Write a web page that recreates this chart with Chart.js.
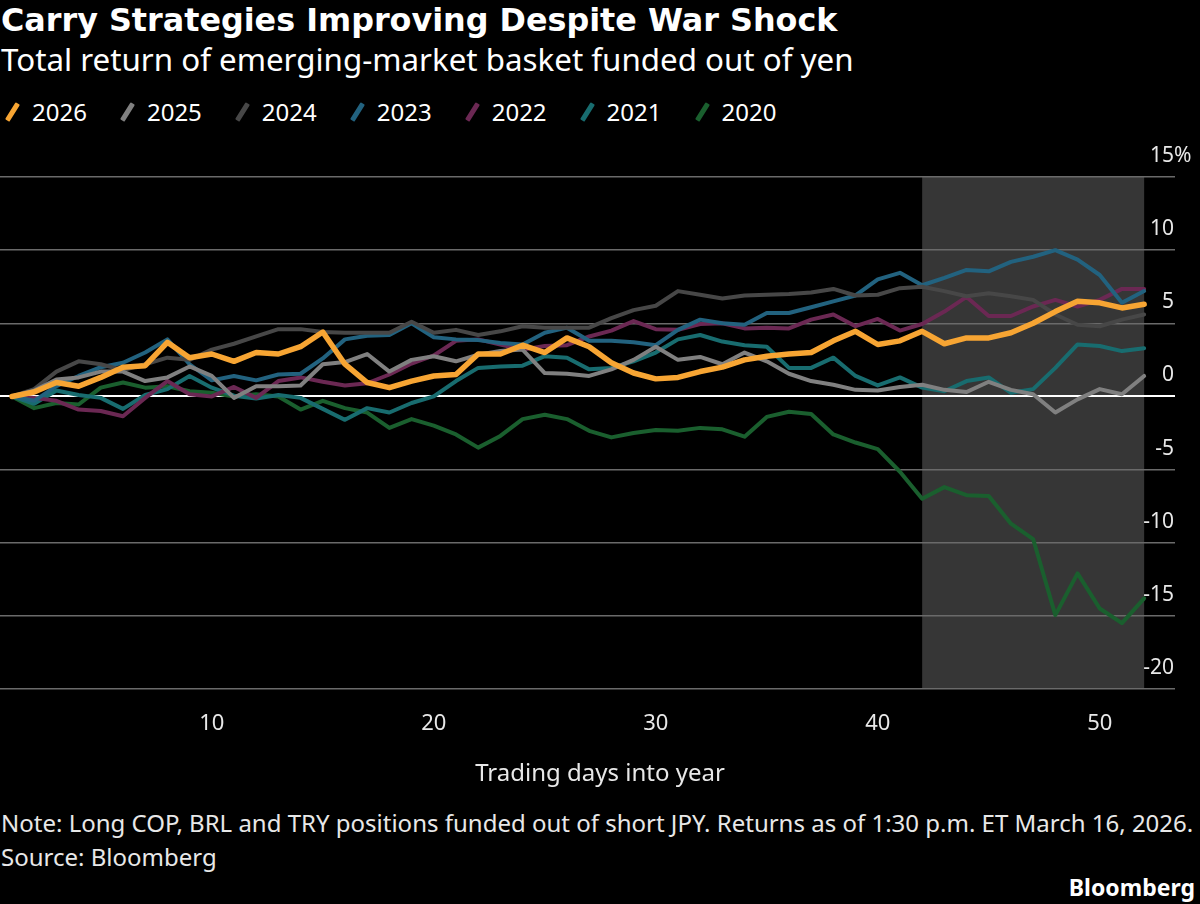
<!DOCTYPE html>
<html>
<head>
<meta charset="utf-8">
<script src="https://cdn.jsdelivr.net/npm/chart.js@4/dist/chart.umd.min.js"></script>
<style>
  html, body { margin: 0; padding: 0; background: #000; }
  body { width: 1200px; height: 904px; position: relative; overflow: hidden; color: #fff; font-family: 'Noto Sans', sans-serif; }
  .title { position: absolute; left: 1px; top: 0px; font: bold 31.8px 'DejaVu Sans', sans-serif; line-height: 40px; white-space: nowrap; }
  .subtitle { position: absolute; left: 1px; top: 38px; font-size: 31.3px; line-height: 42px; white-space: nowrap; }
  .legend { position: absolute; left: 3px; top: 94px; display: flex; font-size: 24px; line-height: 36px; }
  .legend .item { display: flex; align-items: center; margin-right: 31px; }
  .legend .swatch { width: 5px; height: 20px; transform: rotate(32deg); margin: 0 17px 0 7px; border-radius: 1px; }
  .xtitle { position: absolute; left: 0; width: 1200px; top: 755px; text-align: center; font-size: 24px; line-height: 34px; color: #e8e8e8; }
  .note { position: absolute; left: 1px; top: 806px; font-size: 24px; line-height: 34px; color: #e8e8e8; white-space: nowrap; }
  .brand { position: absolute; right: 5px; top: 871px; font: bold 23px 'Noto Sans', sans-serif; line-height: 32px; }
  #wrap { position: absolute; left: 0; top: 140px; width: 1200px; height: 660px; }
</style>
</head>
<body>
<div class="title">Carry Strategies Improving Despite War Shock</div>
<div class="subtitle">Total return of emerging-market basket funded out of yen</div>
<div class="legend" id="legend"></div>
<div id="wrap"><canvas id="chart"></canvas></div>
<div class="xtitle">Trading days into year</div>
<div class="note">Note: Long COP, BRL and TRY positions funded out of short JPY. Returns as of 1:30 p.m. ET March 16, 2026.<br>Source: Bloomberg</div>
<div class="brand">Bloomberg</div>

<script>
// --- data (percent total return, by trading day 1..52) ---
var YEARS = ['2026', '2025', '2024', '2023', '2022', '2021', '2020'];

var R2026 = [0, 0.3, 0.95, 0.7, 1.3, 2.0, 2.1, 3.7, 2.65, 2.9, 2.4, 3.0, 2.9, 3.4, 4.4, 2.2, 0.95, 0.6, 1.05, 1.4,
             1.5, 2.9, 2.9, 3.5, 3.0, 4.0, 3.4, 2.3, 1.6, 1.2, 1.3, 1.7, 2.0, 2.5, 2.75, 2.9, 3.0, 3.8, 4.45, 3.55,
             3.8, 4.45, 3.6, 4.0, 4.0, 4.35, 5.0, 5.8, 6.5, 6.4, 6.05, 6.3];
var R2025 = [0, 0.4, 1.15, 1.3, 1.7, 1.7, 1.05, 1.3, 2.05, 1.4, -0.1, 0.7, 0.7, 0.75, 2.2, 2.35, 2.9, 1.7, 2.5, 2.75,
             2.4, 2.85, 3.1, 3.2, 1.6, 1.55, 1.4, 1.85, 2.5, 3.4, 2.5, 2.7, 2.2, 3.0, 2.4, 1.55, 1.05, 0.8, 0.45, 0.4,
             0.65, 0.8, 0.45, 0.3, 1.0, 0.45, 0.15, -1.1, -0.2, 0.5, 0.15, 1.4];
var R2024 = [0, 0.5, 1.7, 2.4, 2.2, 1.8, 2.2, 2.65, 2.5, 3.2, 3.6, 4.1, 4.6, 4.6, 4.4, 4.35, 4.35, 4.35, 5.1, 4.35,
             4.55, 4.2, 4.45, 4.8, 4.7, 4.7, 4.7, 5.35, 5.9, 6.2, 7.2, 6.95, 6.7, 6.9, 6.95, 7.0, 7.1, 7.35, 6.9, 6.95,
             7.4, 7.5, 7.2, 6.85, 7.05, 6.85, 6.6, 5.6, 4.9, 4.8, 5.25, 5.6];
var R2023 = [0, -0.3, 0.7, 1.4, 2.0, 2.3, 3.0, 3.9, 2.2, 1.1, 1.4, 1.1, 1.5, 1.55, 2.6, 3.9, 4.15, 4.2, 5.0, 4.05,
             3.9, 3.85, 3.65, 3.55, 4.35, 4.7, 3.8, 3.8, 3.7, 3.5, 4.55, 5.25, 5.0, 4.9, 5.7, 5.7, 6.1, 6.5, 6.9, 8.0,
             8.45, 7.6, 8.1, 8.65, 8.55, 9.2, 9.55, 10.0, 9.35, 8.3, 6.4, 7.2];
var R2022 = [0, -0.1, -0.3, -0.9, -1.0, -1.35, -0.1, 1.05, 0.15, 0, 0.65, -0.1, 1.05, 1.3, 1.0, 0.75, 0.9, 1.5, 2.25, 2.8,
             3.8, 3.9, 3.55, 3.2, 3.45, 3.5, 4.1, 4.5, 5.15, 4.6, 4.55, 4.95, 5.0, 4.65, 4.7, 4.65, 5.25, 5.6, 4.8, 5.3,
             4.5, 4.95, 5.8, 6.8, 5.5, 5.5, 6.15, 6.6, 6.15, 6.6, 7.35, 7.35];
var R2021 = [0, -0.5, 0.4, 0.1, -0.1, -0.85, 0.1, 0.5, 1.4, 0.6, 0.05, -0.15, 0.1, -0.1, -0.85, -1.6, -0.8, -1.1, -0.45, 0,
             1.05, 1.95, 2.05, 2.1, 2.75, 2.65, 1.85, 1.95, 2.4, 3.0, 3.9, 4.2, 3.75, 3.5, 3.4, 1.95, 1.95, 2.65, 1.4, 0.75,
             1.3, 0.6, 0.35, 1.05, 1.3, 0.25, 0.5, 1.95, 3.55, 3.45, 3.1, 3.3];
var R2020 = [0, -0.8, -0.45, -0.55, 0.6, 0.95, 0.6, 0.7, 0.35, 0.25, 0, 0.15, 0, -0.9, -0.3, -0.8, -1.1, -2.15, -1.55, -2.0,
             -2.6, -3.5, -2.7, -1.55, -1.25, -1.55, -2.35, -2.8, -2.5, -2.3, -2.35, -2.15, -2.25, -2.75, -1.4, -1.05, -1.2, -2.6, -3.15, -3.6,
             -5.15, -7.0, -6.2, -6.75, -6.8, -8.7, -9.75, -14.95, -12.1, -14.5, -15.5, -13.8];

var X_TICKS = [10, 20, 30, 40, 50];
var Y_TICKS = [15, 10, 5, 0, -5, -10, -15, -20];
var SHADE_FROM = 42;   // shaded period, trading days
var SHADE_TO   = 52;

// --- styles ---
var COLORS = ['#f7a533', '#808080', '#474747', '#22627f', '#6b2853', '#186c6f', '#1a5f2e'];
var WIDTHS = [5.5, 4, 4, 4, 4, 4, 4];
var SERIES = [R2026, R2025, R2024, R2023, R2022, R2021, R2020];

(function () {
  'use strict';

  // legend
  var legend = document.getElementById('legend');
  YEARS.forEach(function (y, i) {
    var item = document.createElement('div');
    item.className = 'item';
    item.innerHTML = '<span class="swatch" style="background:' + COLORS[i] + '"></span><span>' + y + '</span>';
    legend.appendChild(item);
  });

  var shadePlugin = {
    id: 'shade',
    beforeDraw: function (chart) {
      var xs = chart.scales.x, a = chart.chartArea, ctx = chart.ctx;
      var x0 = xs.getPixelForValue(SHADE_FROM), x1 = xs.getPixelForValue(SHADE_TO);
      ctx.save();
      ctx.fillStyle = '#363636';
      ctx.fillRect(x0, a.top, x1 - x0, a.bottom - a.top);
      ctx.restore();
    }
  };

  // unit sign after the top tick label
  var pctPlugin = {
    id: 'pct',
    afterDraw: function (chart) {
      var ys = chart.scales.y, ctx = chart.ctx;
      ctx.save();
      ctx.font = '21px "Noto Sans"';
      ctx.fillStyle = '#e8e8e8';
      ctx.textAlign = 'left';
      ctx.textBaseline = 'middle';
      ctx.fillText('%', chart.chartArea.right - 1, ys.getPixelForValue(Y_TICKS[0]) - 21);
      ctx.restore();
    }
  };

  var datasets = SERIES.map(function (s, i) {
    return {
      label: YEARS[i],
      data: s.map(function (v, j) { return { x: j + 1, y: v }; }),
      borderColor: COLORS[i],
      borderWidth: WIDTHS[i],
      pointRadius: 0,
      tension: 0,
      borderJoinStyle: 'round',
      borderCapStyle: 'round'
    };
  });

  new Chart(document.getElementById('chart'), {
    type: 'line',
    data: { datasets: datasets },
    plugins: [shadePlugin, pctPlugin],
    options: {
      responsive: true,
      maintainAspectRatio: false,
      animation: false,
      events: [],
      layout: { padding: { top: 37, right: 25, left: 0, bottom: 0 } },
      plugins: { legend: { display: false }, tooltip: { enabled: false } },
      scales: {
        x: {
          type: 'linear',
          min: 0.46,
          max: 53.39,
          afterBuildTicks: function (s) { s.ticks = X_TICKS.map(function (v) { return { value: v }; }); },
          afterFit: function (s) { s.height = 111; },
          grid: { display: false },
          border: { display: false },
          ticks: { color: '#e8e8e8', font: { family: 'Noto Sans', size: 22 }, padding: 14, maxRotation: 0 }
        },
        y: {
          position: 'right',
          min: -20,
          max: 15,
          afterBuildTicks: function (s) { s.ticks = Y_TICKS.map(function (v) { return { value: v }; }); },
          afterFit: function (s) { s.width = 0; },
          border: { display: false },
          grid: {
            drawTicks: false,
            color: function (c) { return c.tick && c.tick.value === 0 ? '#ffffff' : '#6a6a6a'; },
            lineWidth: function (c) { return c.tick && c.tick.value === 0 ? 2 : 1.5; }
          },
          ticks: {
            mirror: true,
            padding: -1,
            labelOffset: -21,
            color: '#e8e8e8',
            font: { family: 'Noto Sans', size: 21 }
          }
        }
      }
    }
  });
}());
</script>
</body>
</html>
